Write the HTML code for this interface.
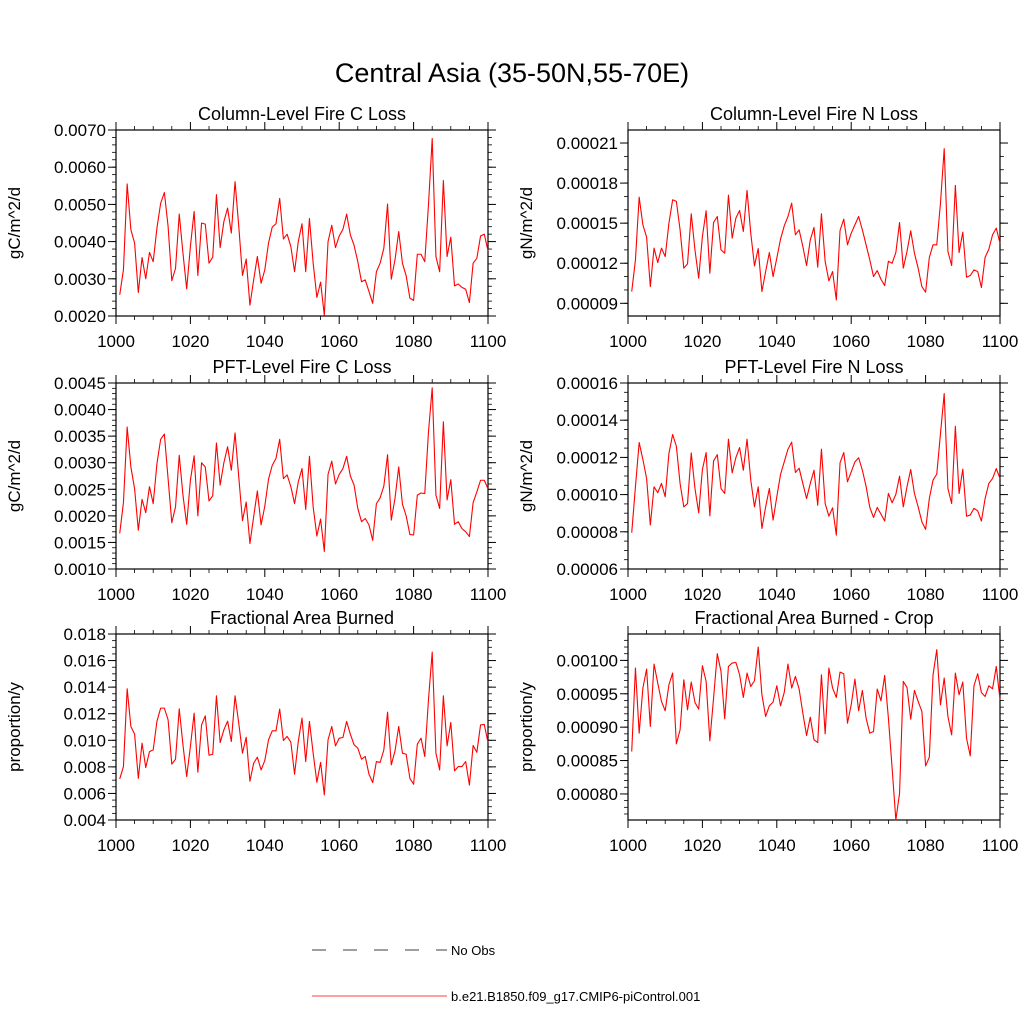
<!DOCTYPE html>
<html><head><meta charset="utf-8">
<style>
html,body{margin:0;padding:0;background:#fff;}
svg{display:block;font-family:"Liberation Sans",sans-serif;}
</style></head>
<body>
<svg id="chart" width="1024" height="1024" viewBox="0 0 1024 1024" xmlns="http://www.w3.org/2000/svg">
<text x="512" y="82" font-size="27" text-anchor="middle">Central Asia (35-50N,55-70E)</text>
<g>
<line x1="312" y1="950" x2="447" y2="950" stroke="#000" stroke-width="0.8" stroke-dasharray="14,17"/>
<text x="451" y="955" font-size="13">No Obs</text>
<line x1="312" y1="996" x2="447" y2="996" stroke="#f00" stroke-width="0.8"/>
<text x="451" y="1001" font-size="13">b.e21.B1850.f09_g17.CMIP6-piControl.001</text>
</g>
</svg>
<script>
// years 1001..1100
const years = Array.from({length:100},(_,i)=>1001+i);
const colFireC = [2.57,3.24,5.55,4.32,3.96,2.63,3.57,3.00,3.71,3.46,4.36,5.03,5.32,4.41,2.95,3.28,4.74,3.69,2.73,3.87,4.81,3.09,4.50,4.47,3.42,3.58,5.26,3.84,4.54,4.90,4.23,5.61,4.41,3.09,3.53,2.29,2.97,3.60,2.88,3.24,3.96,4.39,4.48,5.16,4.07,4.20,3.87,3.19,4.00,4.48,3.19,4.62,3.42,2.50,2.91,2.02,4.00,4.44,3.84,4.15,4.33,4.74,4.18,3.90,3.46,2.92,2.97,2.66,2.34,3.19,3.42,3.82,5.01,2.99,3.51,4.27,3.42,3.08,2.48,2.42,3.66,3.66,3.46,4.99,6.77,3.60,3.19,5.64,3.60,4.12,2.81,2.86,2.77,2.72,2.36,3.42,3.55,4.15,4.20,3.75];
const colFireN = [9.88,12.25,16.95,14.88,13.95,10.25,13.13,12.05,13.13,12.5,15,16.75,16.63,14.5,11.63,11.95,15.7,13,10.88,14,15.93,11.25,15.05,15.5,13,12.75,17.1,13.88,15.38,15.95,14.38,17.45,14.25,11.8,13.1,9.88,11.38,12.8,11,12.38,13.8,14.8,15.5,16.5,14.13,14.5,13.25,11.83,13.75,14.68,11.7,15.7,12.13,10.68,11.38,9.25,14.45,15.3,13.38,14.25,14.88,15.5,14.5,13.38,12.25,11,11.45,10.8,10.33,12.15,12,12.8,15.05,11.63,12.88,14.43,12.75,11.63,10.25,9.83,12.43,13.38,13.38,16.5,20.58,12.88,11.83,17.83,12.8,14.33,10.95,11.08,11.5,11.38,10.18,12.45,13.05,14.13,14.63,13.5];
const pftFireC = [1.67,2.25,3.67,2.92,2.51,1.73,2.31,2.06,2.55,2.23,2.98,3.44,3.54,2.70,1.87,2.17,3.14,2.39,1.84,2.67,3.13,2.00,3.00,2.92,2.28,2.38,3.37,2.58,3.00,3.30,2.86,3.56,2.73,1.91,2.26,1.48,1.98,2.47,1.83,2.18,2.69,2.95,3.08,3.44,2.70,2.77,2.55,2.23,2.64,2.89,2.12,3.12,2.17,1.62,1.94,1.33,2.78,3.03,2.60,2.78,2.89,3.12,2.75,2.58,2.14,1.89,1.95,1.83,1.54,2.23,2.34,2.56,3.15,1.92,2.33,2.92,2.22,2.00,1.65,1.64,2.39,2.43,2.42,3.58,4.41,2.39,2.14,3.77,2.30,2.68,1.84,1.89,1.76,1.70,1.61,2.25,2.45,2.67,2.67,2.51];
const pftFireN = [7.95,10.42,12.80,11.89,10.87,8.36,10.42,10.10,10.60,9.88,12.21,13.23,12.60,10.60,9.34,9.52,12.24,10.33,9.02,11.35,12.26,8.86,11.81,12.15,10.33,10.06,12.98,11.17,11.99,12.53,11.31,12.98,10.78,9.34,10.42,8.18,9.34,10.33,8.63,9.88,11.08,11.76,12.44,12.82,11.19,11.42,10.60,9.79,10.60,11.31,9.43,12.44,9.52,8.84,9.29,7.82,11.71,12.26,10.69,11.22,11.76,11.98,11.31,10.45,9.31,8.77,9.31,8.95,8.58,10.06,9.56,10.01,10.99,9.34,10.42,11.35,10.06,9.34,8.54,8.13,9.79,10.78,11.10,13.28,15.43,10.33,9.52,13.67,10.06,11.37,8.84,8.90,9.26,9.13,8.58,9.79,10.60,10.87,11.40,10.87];
const areaBurned = [7.09,8.02,13.88,11.04,10.46,7.14,9.78,7.95,9.15,9.28,11.42,12.42,12.42,11.54,8.20,8.58,12.37,9.66,7.27,9.53,12.04,7.60,11.16,11.84,8.88,8.95,13.35,9.83,10.79,11.44,9.91,13.35,11.29,9.03,10.23,6.92,8.27,8.73,7.77,8.48,10.03,10.71,10.71,12.35,9.98,10.29,9.86,7.45,9.91,11.67,8.40,11.42,9.03,6.84,8.33,5.89,10.03,11.04,9.58,10.16,10.21,11.42,10.46,9.66,9.41,8.58,8.78,7.45,6.82,8.40,8.33,9.28,12.12,8.15,9.20,11.04,9.03,8.95,7.14,6.69,9.71,10.16,8.78,13.05,16.64,9.03,7.77,13.35,9.58,11.34,7.70,8.02,8.02,8.40,6.63,9.61,9.10,11.16,11.19,9.83];
const areaBurnedCrop = [86.35,98.85,89.1,95.85,98.7,90.1,99.45,96.6,93.85,92.45,96.35,98.1,87.5,89.6,97.1,92.6,96.75,93.7,92.7,99.2,96.85,87.95,94.35,101,98.35,91.25,99.1,99.6,99.7,97.85,94.45,98.1,96.1,96.95,102,94.85,91.6,93.2,93.75,96.2,93.2,95.2,99.45,95.85,97.6,95.7,92.1,88.75,91.5,88.1,87.7,97.85,89,98.85,95.85,94.45,98.25,98,90.6,93.35,97.2,92.45,95.5,91.35,89.1,89.35,95.7,93.95,97.75,91.35,83.85,76.1,80.1,96.85,95.95,91.2,95.5,93.85,92.35,84.2,85.5,97.85,101.6,93.35,97.35,91.6,88.85,98.1,94.85,96.75,88.35,85.7,96.2,98,95.2,94.6,96.2,95.75,99.1,94.1];
const xTicks = [1000,1020,1040,1060,1080,1100];
const tickC1 = ["0.0020","0.0030","0.0040","0.0050","0.0060","0.0070"];
const tickN1 = ["0.00009","0.00012","0.00015","0.00018","0.00021"];
const tickC2 = ["0.0010","0.0015","0.0020","0.0025","0.0030","0.0035","0.0040","0.0045"];
const tickN2 = ["0.00006","0.00008","0.00010","0.00012","0.00014","0.00016"];
const tickA = ["0.004","0.006","0.008","0.010","0.012","0.014","0.016","0.018"];
const tickCrop = ["0.00080","0.00085","0.00090","0.00095","0.00100"];

const NS="http://www.w3.org/2000/svg";
const svg=document.getElementById('chart');
function mk(tag,attrs,parent){const e=document.createElementNS(NS,tag);for(const k in attrs)e.setAttribute(k,attrs[k]);(parent||svg).appendChild(e);return e;}

function panel(o){
  const g=mk('g',{});
  
  
  const L=o.x,R=o.x+372,T=o.y,B=o.y+186;
  const xs=v=>L+(v-1000)/100*(R-L);
  const ys=v=>B-(v-o.min)/(o.max-o.min)*(B-T);
  const box=mk('rect',{x:L,y:T,width:R-L,height:B-T,fill:'none',stroke:'#000','stroke-width':1.2},g);
  
  
  xTicks.forEach(t=>{
    const X=xs(t);
    mk('line',{x1:X,y1:B,x2:X,y2:B+8,stroke:'#000','stroke-width':1},g);
    mk('line',{x1:X,y1:T,x2:X,y2:T-8,stroke:'#000','stroke-width':1},g);
    const tx=mk('text',{x:X,y:B+31,'font-size':17,'text-anchor':'middle'},g);
    tx.textContent=t;
    
    
  });
  for(let t=1005;t<1100;t+=5){ if(t%20===0)continue; const X=xs(t);
    mk('line',{x1:X,y1:B,x2:X,y2:B+4,stroke:'#000','stroke-width':0.8},g);
    mk('line',{x1:X,y1:T,x2:X,y2:T-4,stroke:'#000','stroke-width':0.8},g);}
  for(let v=Math.ceil(o.min/o.minor-1e-9)*o.minor; v<=o.max+1e-9; v+=o.minor){const Y=ys(v);
    mk('line',{x1:L,y1:Y,x2:L-4,y2:Y,stroke:'#000','stroke-width':0.8},g);
    mk('line',{x1:R,y1:Y,x2:R+4,y2:Y,stroke:'#000','stroke-width':0.8},g);}
  o.ticks.forEach((lab,i)=>{
    const v=o.tick0+i*o.step, Y=ys(v);
    mk('line',{x1:L,y1:Y,x2:L-8,y2:Y,stroke:'#000','stroke-width':1},g);
    mk('line',{x1:R,y1:Y,x2:R+8,y2:Y,stroke:'#000','stroke-width':1},g);
    const tx=mk('text',{x:L-10,y:Y+6,'font-size':17,'text-anchor':'end'},g);
    tx.textContent=lab;
    
    
  });
  const title=mk('text',{x:(L+R)/2,y:T-10,'font-size':18,'text-anchor':'middle'},g);
  title.textContent=o.title;
  
  
  const cy=(T+B)/2;
  const yt=mk('text',{x:0,y:0,'font-size':17,'text-anchor':'middle',transform:`translate(${L-96},${cy}) rotate(-90)`},g);
  yt.textContent=o.ylabel;
  
  
  const pts=o.data.map((v,i)=>xs(years[i]).toFixed(2)+','+ys(v).toFixed(2)).join(' ');
  const line=mk('polyline',{points:pts,fill:'none',stroke:'#f00','stroke-width':1.1,'stroke-linejoin':'round'},g);
  
  
}
panel({name:'panel-column-fire-c',x:116,y:130,min:2,max:7,minor:0.2,tick0:2,step:1,ticks:tickC1,data:colFireC,title:'Column-Level Fire C Loss',ylabel:'gC/m^2/d'});
panel({name:'panel-column-fire-n',x:628,y:130,min:8.05,max:21.975,minor:1,tick0:9,step:3,ticks:tickN1,data:colFireN,title:'Column-Level Fire N Loss',ylabel:'gN/m^2/d'});
panel({name:'panel-pft-fire-c',x:116,y:383,min:1,max:4.5,minor:0.1,tick0:1,step:0.5,ticks:tickC2,data:pftFireC,title:'PFT-Level Fire C Loss',ylabel:'gC/m^2/d'});
panel({name:'panel-pft-fire-n',x:628,y:383,min:6,max:16,minor:0.5,tick0:6,step:2,ticks:tickN2,data:pftFireN,title:'PFT-Level Fire N Loss',ylabel:'gN/m^2/d'});
panel({name:'panel-area-burned',x:116,y:634,min:4,max:18,minor:0.5,tick0:4,step:2,ticks:tickA,data:areaBurned,title:'Fractional Area Burned',ylabel:'proportion/y'});
panel({name:'panel-area-burned-crop',x:628,y:634,min:76.1,max:103.95,minor:1,tick0:80,step:5,ticks:tickCrop,data:areaBurnedCrop,title:'Fractional Area Burned - Crop',ylabel:'proportion/y'});
</script>
</body></html>
